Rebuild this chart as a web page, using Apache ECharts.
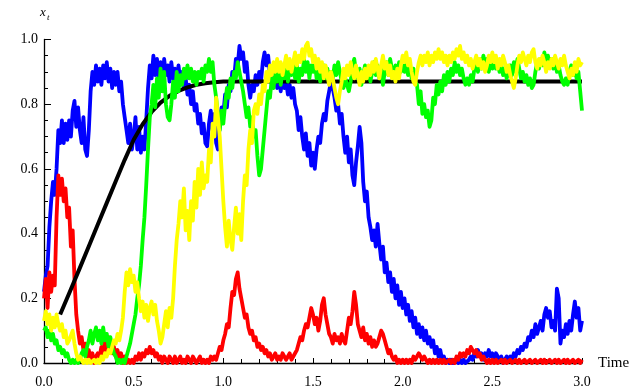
<!DOCTYPE html>
<html>
<head>
<meta charset="utf-8">
<script src="https://cdn.jsdelivr.net/npm/echarts@6/dist/echarts.min.js"></script>
<style>
  html, body { margin: 0; padding: 0; background: #fff; }
  #chart { width: 642px; height: 392px; }
</style>
</head>
<body>
<div id="chart"></div>
<script>
// Four simulated paths x_t sampled every 0.01 time units on [0, 3]
const STEP = 0.01;

const bluePath = [0.22,
  0.27,0.3,0.42,0.5,0.56,0.52,0.6,0.72,0.68,0.75,
  0.68,0.74,0.69,0.75,0.7,0.78,0.81,0.73,0.79,0.72,
  0.68,0.76,0.66,0.64,0.72,0.84,0.9,0.86,0.92,0.87,
  0.91,0.86,0.92,0.88,0.93,0.87,0.91,0.85,0.9,0.86,
  0.9,0.84,0.87,0.8,0.76,0.72,0.68,0.74,0.66,0.7,
  0.76,0.66,0.73,0.65,0.7,0.66,0.75,0.85,0.92,0.88,
  0.95,0.89,0.94,0.88,0.93,0.86,0.94,0.89,0.92,0.87,
  0.93,0.88,0.91,0.86,0.92,0.87,0.9,0.85,0.88,0.83,
  0.86,0.8,0.84,0.78,0.8,0.74,0.77,0.71,0.74,0.68,
  0.67,0.74,0.78,0.72,0.77,0.68,0.66,0.74,0.79,0.77,
  0.83,0.79,0.86,0.84,0.9,0.88,0.94,0.92,0.98,0.94,
  0.96,0.9,0.93,0.86,0.82,0.86,0.84,0.89,0.86,0.9,
  0.87,0.93,0.96,0.92,0.95,0.89,0.91,0.86,0.9,0.85,
  0.88,0.84,0.89,0.85,0.87,0.83,0.86,0.82,0.85,0.8,
  0.78,0.72,0.76,0.7,0.66,0.71,0.64,0.68,0.61,0.65,
  0.6,0.66,0.7,0.68,0.74,0.77,0.75,0.81,0.84,0.87,
  0.85,0.82,0.78,0.8,0.74,0.77,0.7,0.65,0.7,0.62,
  0.66,0.58,0.55,0.62,0.67,0.73,0.68,0.56,0.5,0.53,
  0.45,0.42,0.38,0.41,0.36,0.43,0.37,0.32,0.36,0.28,
  0.31,0.25,0.28,0.22,0.26,0.2,0.24,0.18,0.22,0.17,
  0.2,0.15,0.18,0.13,0.16,0.11,0.14,0.09,0.12,0.08,
  0.11,0.07,0.1,0.06,0.08,0.05,0.07,0.03,0.05,0.02,
  0.04,0.01,0.02,0.0,0.01,0.0,0.01,0.0,0.0,0.01,
  0.0,0.01,0.0,0.01,0.0,0.0,0.01,0.02,0.01,0.03,
  0.02,0.04,0.02,0.03,0.01,0.03,0.02,0.04,0.02,0.03,
  0.01,0.03,0.02,0.01,0.02,0.0,0.01,0.02,0.01,0.02,
  0.01,0.03,0.02,0.04,0.03,0.05,0.04,0.06,0.05,0.08,
  0.07,0.1,0.08,0.12,0.09,0.11,0.13,0.1,0.15,0.17,
  0.14,0.16,0.11,0.13,0.1,0.23,0.2,0.06,0.1,0.08,
  0.12,0.09,0.13,0.1,0.15,0.19,0.14,0.17,0.1,0.13];

const redPath = [0.2,
  0.26,0.17,0.28,0.22,0.27,0.24,0.45,0.58,0.52,0.57,
  0.5,0.54,0.45,0.48,0.36,0.41,0.26,0.15,0.1,0.06,
  0.08,0.04,0.06,0.02,0.04,0.01,0.03,0.0,0.02,0.03,
  0.02,0.05,0.03,0.07,0.04,0.08,0.05,0.03,0.05,0.02,
  0.04,0.01,0.03,0.0,0.02,0.0,0.01,0.0,0.01,0.0,
  0.02,0.01,0.03,0.01,0.03,0.02,0.04,0.03,0.05,0.03,
  0.04,0.02,0.03,0.01,0.02,0.0,0.02,0.01,0.0,0.02,
  0.01,0.0,0.02,0.0,0.01,0.02,0.0,0.01,0.0,0.02,
  0.01,0.0,0.02,0.01,0.0,0.01,0.02,0.0,0.01,0.0,
  0.01,0.0,0.02,0.01,0.02,0.01,0.03,0.05,0.04,0.07,
  0.09,0.12,0.11,0.17,0.22,0.21,0.26,0.28,0.23,0.2,
  0.17,0.14,0.15,0.11,0.09,0.1,0.07,0.08,0.05,0.06,
  0.04,0.05,0.03,0.04,0.02,0.03,0.01,0.02,0.03,0.01,
  0.02,0.01,0.03,0.02,0.01,0.02,0.03,0.01,0.02,0.03,
  0.04,0.06,0.08,0.07,0.1,0.12,0.11,0.14,0.17,0.15,
  0.12,0.14,0.1,0.13,0.18,0.2,0.15,0.12,0.09,0.08,
  0.06,0.09,0.07,0.08,0.06,0.09,0.07,0.06,0.1,0.14,
  0.12,0.16,0.22,0.18,0.12,0.1,0.08,0.11,0.07,0.09,
  0.06,0.08,0.05,0.07,0.05,0.06,0.08,0.1,0.09,0.07,
  0.05,0.03,0.04,0.02,0.01,0.02,0.0,0.01,0.0,0.01,
  0.0,0.01,0.0,0.01,0.0,0.02,0.01,0.02,0.03,0.02,
  0.01,0.02,0.01,0.0,0.01,0.0,0.01,0.0,0.01,0.0,
  0.01,0.0,0.01,0.0,0.0,0.01,0.0,0.01,0.0,0.02,
  0.01,0.03,0.02,0.03,0.02,0.04,0.03,0.05,0.04,0.03,
  0.04,0.02,0.03,0.01,0.02,0.01,0.0,0.01,0.0,0.01,
  0.0,0.01,0.0,0.0,0.01,0.0,0.01,0.0,0.0,0.01,
  0.0,0.0,0.01,0.0,0.01,0.0,0.0,0.01,0.0,0.0,
  0.01,0.0,0.0,0.01,0.0,0.0,0.01,0.0,0.01,0.0,
  0.0,0.01,0.0,0.0,0.01,0.0,0.01,0.0,0.0,0.01,
  0.0,0.01,0.0,0.0,0.01,0.0,0.0,0.01,0.0,0.01];

const greenPath = [0.1,
  0.11,0.08,0.1,0.07,0.09,0.06,0.07,0.04,0.05,0.03,
  0.04,0.02,0.03,0.01,0.0,0.01,0.0,0.01,0.0,0.01,
  0.03,0.04,0.02,0.05,0.07,0.1,0.06,0.09,0.11,0.07,
  0.1,0.06,0.11,0.07,0.09,0.05,0.08,0.05,0.03,0.02,
  0.0,0.01,0.0,0.01,0.0,0.02,0.04,0.06,0.09,0.12,
  0.15,0.2,0.24,0.3,0.38,0.45,0.55,0.66,0.76,0.8,
  0.86,0.79,0.88,0.82,0.91,0.84,0.9,0.8,0.76,0.75,
  0.8,0.87,0.82,0.9,0.84,0.89,0.86,0.91,0.88,0.92,
  0.88,0.91,0.87,0.9,0.86,0.9,0.88,0.91,0.87,0.92,
  0.9,0.94,0.9,0.93,0.86,0.82,0.76,0.72,0.78,0.74,
  0.8,0.85,0.82,0.88,0.85,0.9,0.88,0.93,0.9,0.87,
  0.84,0.8,0.76,0.79,0.73,0.76,0.7,0.72,0.64,0.58,
  0.6,0.66,0.72,0.78,0.84,0.82,0.88,0.85,0.9,0.87,
  0.91,0.86,0.9,0.88,0.92,0.87,0.91,0.89,0.93,0.88,
  0.92,0.87,0.91,0.89,0.94,0.9,0.93,0.88,0.92,0.9,
  0.93,0.88,0.91,0.87,0.9,0.92,0.88,0.91,0.87,0.9,
  0.88,0.92,0.89,0.93,0.9,0.87,0.85,0.88,0.86,0.84,
  0.87,0.92,0.94,0.9,0.88,0.91,0.86,0.89,0.92,0.88,
  0.91,0.87,0.9,0.93,0.89,0.92,0.88,0.91,0.86,0.9,
  0.93,0.89,0.94,0.91,0.88,0.92,0.89,0.93,0.9,0.92,
  0.9,0.93,0.89,0.92,0.88,0.91,0.87,0.86,0.8,0.84,
  0.77,0.8,0.76,0.78,0.73,0.75,0.82,0.8,0.86,0.83,
  0.87,0.84,0.89,0.86,0.9,0.87,0.91,0.89,0.93,0.9,
  0.92,0.89,0.91,0.88,0.86,0.88,0.86,0.89,0.87,0.91,
  0.93,0.9,0.94,0.91,0.95,0.92,0.94,0.9,0.93,0.91,
  0.94,0.91,0.93,0.9,0.92,0.89,0.91,0.88,0.9,0.92,
  0.89,0.93,0.9,0.94,0.91,0.88,0.9,0.87,0.89,0.86,
  0.88,0.85,0.86,0.9,0.93,0.91,0.94,0.92,0.96,0.93,
  0.95,0.92,0.94,0.91,0.93,0.9,0.92,0.89,0.87,0.86,
  0.88,0.86,0.9,0.92,0.89,0.91,0.88,0.9,0.84,0.78];

const yellowPath = [0.13,
  0.16,0.12,0.15,0.1,0.14,0.11,0.15,0.12,0.1,0.12,
  0.08,0.1,0.06,0.07,0.07,0.1,0.06,0.03,0.01,0.02,
  0.01,0.0,0.01,0.0,0.01,0.0,0.0,0.01,0.0,0.01,
  0.0,0.02,0.01,0.03,0.02,0.04,0.03,0.05,0.07,0.06,
  0.09,0.07,0.1,0.14,0.22,0.28,0.24,0.29,0.25,0.27,
  0.22,0.25,0.2,0.16,0.19,0.14,0.18,0.13,0.17,0.19,
  0.15,0.18,0.13,0.1,0.06,0.08,0.12,0.16,0.11,0.17,
  0.14,0.2,0.3,0.38,0.43,0.5,0.45,0.54,0.41,0.47,
  0.38,0.5,0.44,0.56,0.48,0.6,0.52,0.62,0.54,0.58,
  0.56,0.66,0.62,0.74,0.7,0.82,0.76,0.7,0.6,0.5,
  0.42,0.36,0.44,0.38,0.35,0.42,0.48,0.4,0.46,0.38,
  0.5,0.58,0.55,0.66,0.72,0.68,0.78,0.8,0.77,0.83,
  0.8,0.86,0.84,0.9,0.87,0.92,0.89,0.93,0.9,0.94,
  0.9,0.93,0.89,0.92,0.95,0.91,0.94,0.9,0.93,0.96,
  0.92,0.95,0.93,0.97,0.94,0.98,0.99,0.95,0.97,0.93,
  0.95,0.91,0.94,0.9,0.93,0.88,0.92,0.89,0.86,0.9,
  0.88,0.85,0.82,0.8,0.84,0.87,0.91,0.88,0.92,0.89,
  0.93,0.9,0.88,0.92,0.89,0.86,0.9,0.87,0.91,0.88,
  0.92,0.89,0.93,0.9,0.94,0.91,0.88,0.92,0.95,0.91,
  0.93,0.89,0.92,0.88,0.9,0.87,0.91,0.88,0.92,0.95,
  0.93,0.96,0.92,0.94,0.9,0.87,0.86,0.9,0.93,0.95,
  0.92,0.95,0.93,0.96,0.92,0.95,0.93,0.96,0.94,0.97,
  0.94,0.96,0.93,0.95,0.92,0.95,0.93,0.96,0.94,0.97,
  0.95,0.98,0.94,0.96,0.93,0.95,0.92,0.94,0.91,0.93,
  0.95,0.92,0.94,0.91,0.93,0.9,0.92,0.95,0.93,0.96,
  0.93,0.95,0.91,0.94,0.92,0.95,0.93,0.9,0.92,0.89,
  0.87,0.85,0.88,0.92,0.95,0.93,0.96,0.94,0.92,0.95,
  0.93,0.96,0.97,0.93,0.91,0.94,0.92,0.95,0.93,0.9,
  0.93,0.91,0.94,0.92,0.95,0.93,0.91,0.94,0.92,0.95,
  0.92,0.9,0.88,0.91,0.89,0.93,0.9,0.94,0.92,0.93];

// Deterministic mean curve (time, value)
const meanTime  = [0.09, 0.15, 0.20, 0.25, 0.30, 0.35, 0.40, 0.45, 0.50, 0.55, 0.60, 0.65, 0.70, 0.75, 0.80, 0.85, 0.90, 0.95, 1.0, 3.0];
const meanValue = [0.15, 0.228, 0.294, 0.361, 0.428, 0.495, 0.562, 0.628, 0.69, 0.738, 0.776, 0.805, 0.826, 0.841, 0.852, 0.86, 0.865, 0.868, 0.87, 0.87];

const toPairs = arr => arr.map((v, i) => [+(i * STEP).toFixed(2), v]);
const meanPairs = meanTime.map((t, i) => [t, meanValue[i]]);

const FONT = 'Liberation Serif';

function pathSeries(values, color, z) {
  return {
    type: 'line',
    data: toPairs(values),
    symbol: 'none',
    clip: false,
    z: z,
    lineStyle: { color: color, width: 3.8, join: 'round' }
  };
}

const chart = echarts.init(document.getElementById('chart'), null, { renderer: 'canvas' });
chart.setOption({
  animation: false,
  backgroundColor: '#fff',
  grid: { left: 44, right: 60, top: 39.5, bottom: 29 },
  xAxis: {
    type: 'value', min: 0, max: 3, interval: 0.5,
    name: 'Time', nameLocation: 'end', nameGap: 16,
    nameTextStyle: { color: '#000', fontFamily: FONT, fontSize: 15, verticalAlign: 'middle' },
    axisLine: { show: true, lineStyle: { color: '#000', width: 1.3 } },
    axisTick: { show: true, inside: true, length: 5, lineStyle: { color: '#000', width: 1 } },
    minorTick: { show: true, splitNumber: 5, length: 4, lineStyle: { color: '#000', width: 1 } },
    splitLine: { show: false },
    axisLabel: { color: '#000', fontFamily: FONT, fontSize: 14, margin: 12, formatter: v => v.toFixed(1) }
  },
  yAxis: {
    type: 'value', min: 0, max: 1, interval: 0.2,
    axisLine: { show: true, lineStyle: { color: '#000', width: 1.3 } },
    axisTick: { show: true, inside: true, length: 7, lineStyle: { color: '#000', width: 1 } },
    minorTick: { show: true, splitNumber: 4, length: 4, lineStyle: { color: '#000', width: 1 } },
    splitLine: { show: false },
    axisLabel: { color: '#000', fontFamily: FONT, fontSize: 14, margin: 6, formatter: v => v.toFixed(1) }
  },
  graphic: [
    { type: 'text', left: 40, top: 6, style: { text: 'x', font: 'italic 13px "Liberation Serif"', fill: '#000' } },
    { type: 'text', left: 47, top: 13, style: { text: 't', font: 'italic 9px "Liberation Serif"', fill: '#000' } }
  ],
  series: [
    pathSeries(bluePath, '#0000ff', 2),
    pathSeries(redPath, '#ff0000', 3),
    {
      type: 'line', data: meanPairs, smooth: false, symbol: 'none', clip: false, z: 4,
      lineStyle: { color: '#000', width: 4, join: 'round' }
    },
    pathSeries(greenPath, '#00ff00', 5),
    pathSeries(yellowPath, '#ffff00', 6)
  ]
});
</script>
</body>
</html>
